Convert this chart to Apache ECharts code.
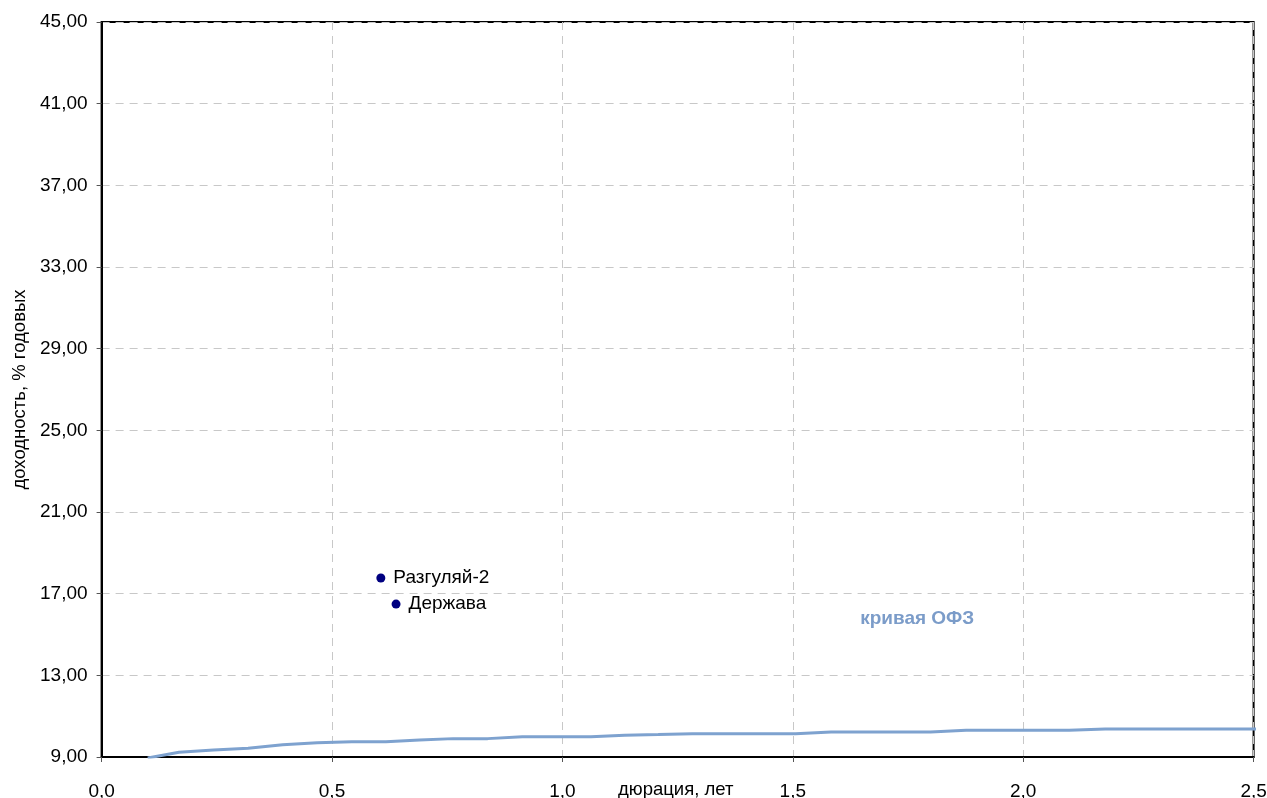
<!DOCTYPE html>
<html>
<head>
<meta charset="utf-8">
<script src="https://cdn.jsdelivr.net/npm/echarts@6/dist/echarts.min.js"></script>
<style>
html,body{margin:0;padding:0;background:#fff;}
#c{width:1267px;height:798px;}
</style>
</head>
<body>
<div id="c"></div>
<script>
var ofzDuration = [0.100, 0.168, 0.243, 0.318, 0.393, 0.468, 0.543, 0.617, 0.690, 0.763, 0.838, 0.913, 0.990, 1.062, 1.135, 1.208, 1.282, 1.357, 1.432, 1.506, 1.583, 1.657, 1.730, 1.799, 1.876, 1.950, 2.025, 2.100, 2.178, 2.252, 2.327, 2.401, 2.480, 2.530];
var ofzYield = [8.95, 9.23, 9.34, 9.43, 9.60, 9.70, 9.75, 9.75, 9.83, 9.90, 9.90, 9.99, 9.99, 9.99, 10.07, 10.10, 10.14, 10.14, 10.14, 10.14, 10.22, 10.22, 10.22, 10.22, 10.31, 10.31, 10.31, 10.31, 10.37, 10.37, 10.37, 10.37, 10.37, 10.37];
var bondNames = ['Разгуляй-2', 'Держава'];
var bondDuration = [0.606, 0.639];
var bondYield = [17.77, 16.49];
var yTicks = {min: 9, max: 45, interval: 4};
var xTicks = {min: 0, max: 2.5, interval: 0.5};
var xAxisTitle = 'дюрация, лет';
var yAxisTitle = 'доходность, % годовых';

var FONT = "'Liberation Sans', Arial, sans-serif";
var chart = echarts.init(document.getElementById('c'));
var lineData = ofzDuration.map(function (d, i) { return [d, ofzYield[i]]; });
var scatterData = bondNames.map(function (n, i) { return {name: n, value: [bondDuration[i], bondYield[i]]}; });

chart.setOption({
  animation: false,
  backgroundColor: '#ffffff',
  title: {
    text: xAxisTitle, left: 618, top: 780, padding: 0,
    textStyle: {fontFamily: FONT, fontSize: 18.5, fontWeight: 'normal', color: '#000'}
  },
  grid: {left: 101.6, right: 13.4, top: 22, bottom: 41, outerBoundsMode: 'none', containLabel: false,
    show: true, borderColor: '#000', borderWidth: 2, backgroundColor: 'transparent'},
  xAxis: {
    type: 'value', min: xTicks.min, max: xTicks.max, interval: xTicks.interval,
    axisLine: {show: true, onZero: false, lineStyle: {color: '#000', width: 2}},
    axisTick: {show: true, length: 5, lineStyle: {color: '#555'}},
    axisLabel: {margin: 25, fontFamily: FONT, fontSize: 19, color: '#000',
      formatter: function (v) { return v.toFixed(1).replace('.', ','); }},
    splitLine: {show: true, lineStyle: {color: '#c8c8c8', type: [8, 6], width: 1}}
  },
  yAxis: {
    type: 'value', min: yTicks.min, max: yTicks.max, interval: yTicks.interval,
    name: yAxisTitle, nameLocation: 'middle', nameGap: 71,
    nameTextStyle: {fontFamily: FONT, fontSize: 18.5, color: '#000'},
    axisLine: {show: true, onZero: false, lineStyle: {color: '#000', width: 2}},
    axisTick: {show: true, length: 5, lineStyle: {color: '#555'}},
    axisLabel: {margin: 14, fontFamily: FONT, fontSize: 19, color: '#000',
      formatter: function (v) { return v.toFixed(2).replace('.', ','); }},
    splitLine: {show: true, lineStyle: {color: '#c8c8c8', type: [8, 6], width: 1}}
  },
  series: [
    {
      type: 'line', data: lineData, showSymbol: false, clip: true,
      lineStyle: {color: '#7ea2cf', width: 3},
      itemStyle: {color: '#7ea2cf'},
      markPoint: {
        symbol: 'circle', symbolSize: 0,
        label: {show: true, formatter: 'кривая ОФЗ', fontFamily: FONT, fontSize: 19, fontWeight: 'bold', color: '#7b9cc9'},
        data: [{coord: [1.77, 15.78]}]
      }
    },
    {
      type: 'scatter', data: scatterData, symbol: 'circle', symbolSize: 9,
      itemStyle: {color: '#000080', opacity: 1},
      label: {show: true, position: 'right', distance: 8, formatter: '{b}', fontFamily: FONT, fontSize: 19, color: '#000'}
    }
  ]
});
</script>
</body>
</html>
